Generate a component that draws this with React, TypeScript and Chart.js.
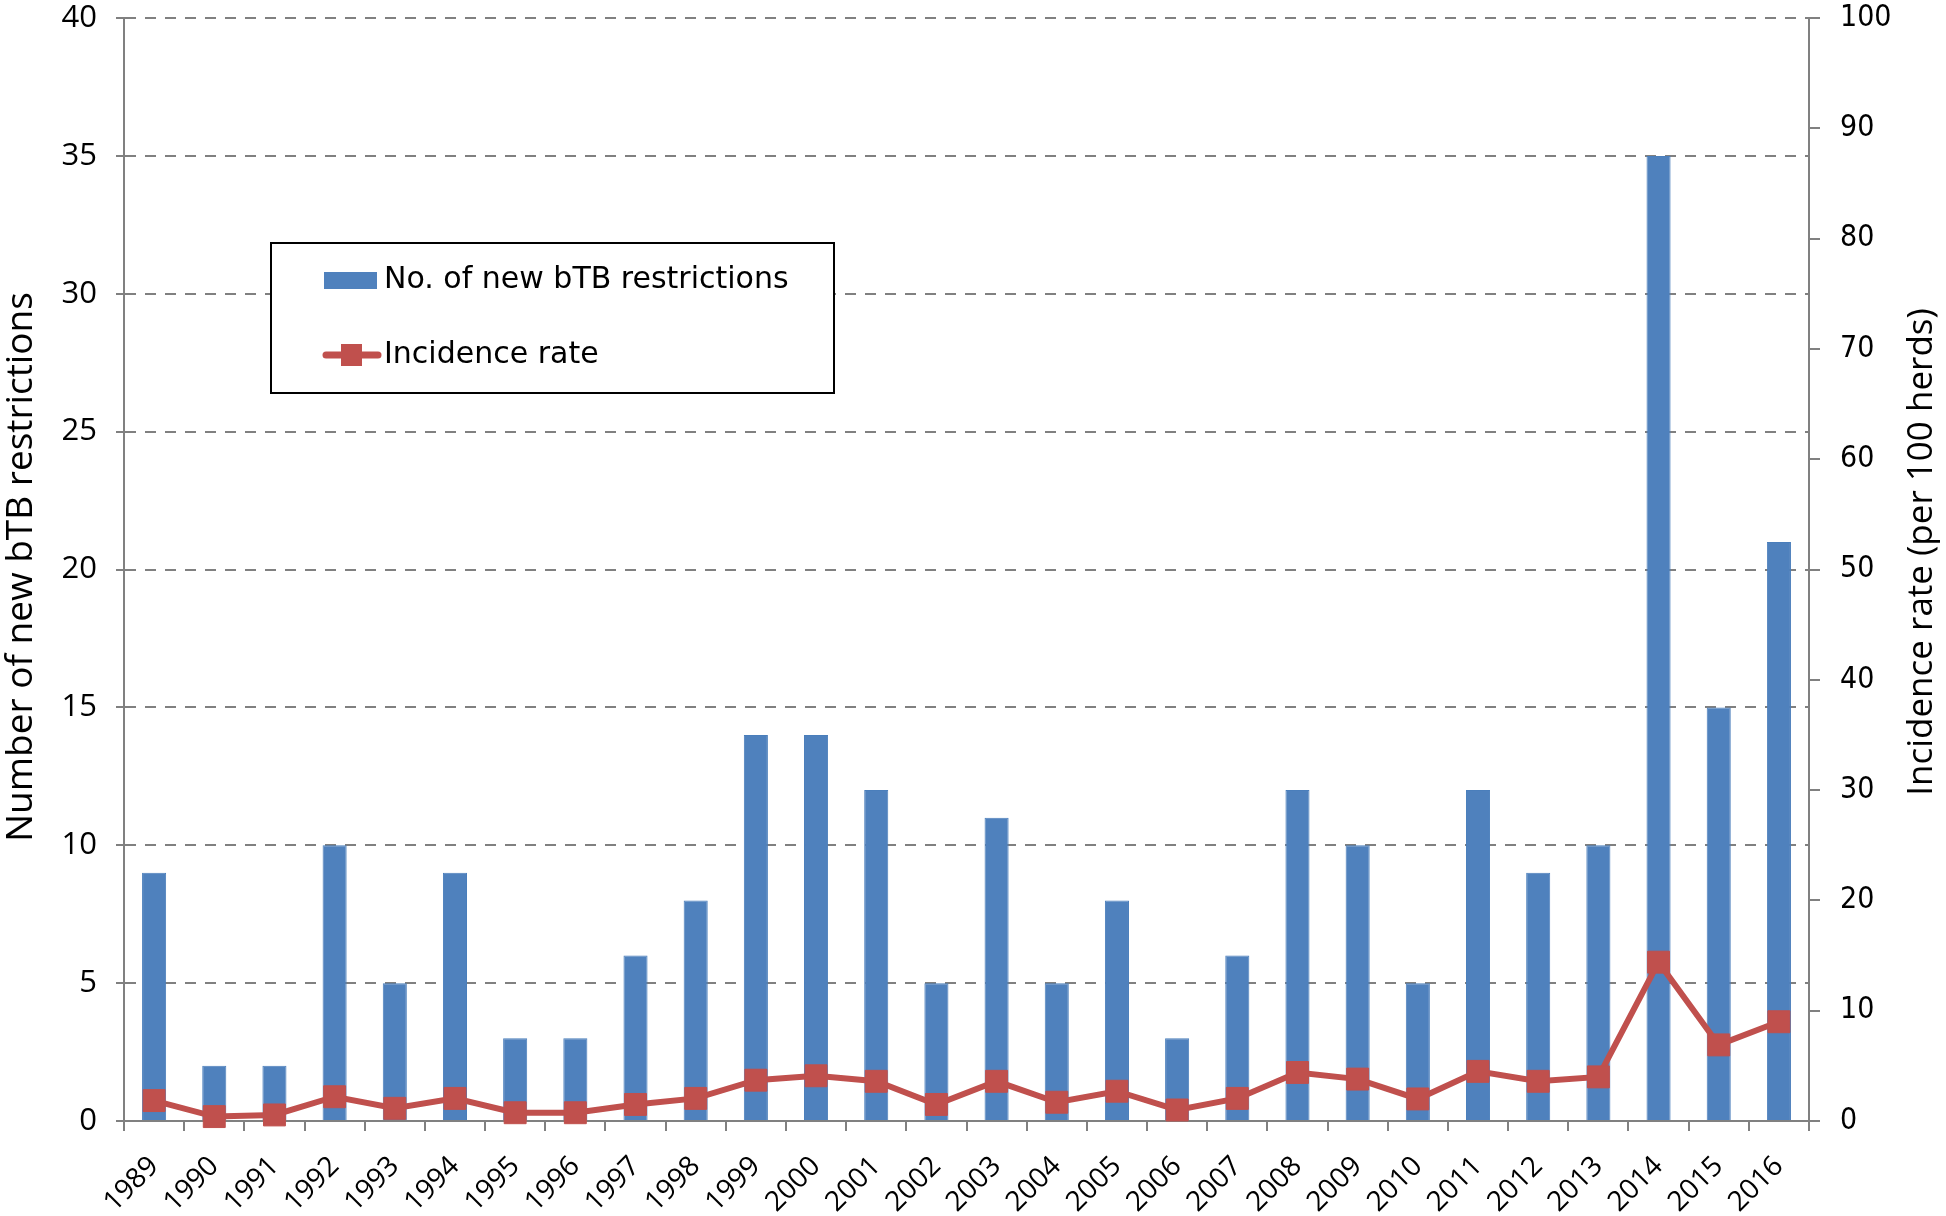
import React, { useEffect, useRef } from "react";
import { Chart, registerables } from "chart.js";

Chart.register(...registerables);

const years = [
  "1989", "1990", "1991", "1992", "1993", "1994", "1995", "1996", "1997", "1998",
  "1999", "2000", "2001", "2002", "2003", "2004", "2005", "2006", "2007", "2008",
  "2009", "2010", "2011", "2012", "2013", "2014", "2015", "2016",
];
const newRestrictions = [
  9, 2, 2, 10, 5, 9, 3, 3, 6, 8,
  14, 14, 12, 5, 11, 5, 8, 3, 6, 12,
  10, 5, 12, 9, 10, 35, 15, 21,
];
const incidenceRate = [
  1.85, 0.4, 0.55, 2.2, 1.15, 2.05, 0.75, 0.75, 1.5, 2.05,
  3.7, 4.1, 3.6, 1.5, 3.6, 1.7, 2.7, 1.0, 2.05, 4.4,
  3.8, 2.0, 4.5, 3.6, 4.0, 14.4, 6.9, 9.0,
];
const barLabel = "No. of new bTB restrictions";
const lineLabel = "Incidence rate";
const leftTitle = "Number of new bTB restrictions";
const rightTitle = "Incidence rate (per 100 herds)";

const W = 1946;
const H = 1216;
const BLUE = "#4F81BD";
const RED = "#C0504D";
const GREY = "#808080";

const overlayPlugin = {
  id: "overlay",
  afterDraw(chart: any) {
    const ctx = chart.ctx as CanvasRenderingContext2D;
    ctx.save();
    // axis titles
    ctx.fillStyle = "#000";
    ctx.textAlign = "center";
    ctx.textBaseline = "middle";
    ctx.save();
    ctx.font = "37px 'Open Sans'";
    ctx.translate(21, 567);
    ctx.rotate(-Math.PI / 2);
    ctx.fillText(leftTitle, 0, 0);
    ctx.restore();
    ctx.save();
    ctx.font = "35px 'Open Sans'";
    ctx.translate(1922, 552);
    ctx.rotate(-Math.PI / 2);
    ctx.fillText(rightTitle, 0, 0);
    ctx.restore();

    // legend box
    const bx = 271, by = 243, bw = 563, bh = 150;
    ctx.fillStyle = "#fff";
    ctx.fillRect(bx, by, bw, bh);
    ctx.strokeStyle = "#000";
    ctx.lineWidth = 2;
    ctx.strokeRect(bx, by, bw, bh);

    ctx.fillStyle = BLUE;
    ctx.fillRect(324, 272, 53, 17);

    ctx.strokeStyle = RED;
    ctx.lineWidth = 7;
    ctx.lineCap = "round";
    ctx.beginPath();
    ctx.moveTo(326, 355);
    ctx.lineTo(378, 355);
    ctx.stroke();
    ctx.fillStyle = RED;
    ctx.fillRect(341, 344, 21, 22);

    ctx.fillStyle = "#000";
    ctx.textAlign = "left";
    ctx.textBaseline = "middle";
    ctx.font = "30px 'DejaVu Sans'";
    ctx.fillText(barLabel, 384, 280);
    ctx.fillText(lineLabel, 384, 355);
    ctx.restore();
  },
};

const zeroPad = (s: any) => {
  s.paddingTop = 0;
  s.paddingBottom = 0;
};

export default function App() {
  const canvasRef = useRef<HTMLCanvasElement | null>(null);

  useEffect(() => {
    const canvas = canvasRef.current;
    if (!canvas) return;
    const chart = new Chart(canvas, {
      type: "bar",
      data: {
        labels: years,
        datasets: [
          {
            type: "line",
            label: lineLabel,
            data: incidenceRate,
            yAxisID: "y1",
            borderColor: RED,
            borderWidth: 6,
            backgroundColor: RED,
            pointStyle: "rect",
            pointRadius: 15.5,
            pointBackgroundColor: RED,
            pointBorderColor: RED,
            pointBorderWidth: 1,
            tension: 0,
            order: 0,
            clip: false,
          } as any,
          {
            type: "bar",
            label: barLabel,
            data: newRestrictions,
            yAxisID: "y",
            backgroundColor: BLUE,
            borderColor: "#4A7EBB",
            borderWidth: 1,
            barPercentage: 0.4,
            categoryPercentage: 1.0,
            order: 1,
          },
        ],
      },
      options: {
        responsive: false,
        animation: false,
        devicePixelRatio: 1,
        layout: { padding: { top: 18, left: 0, right: 0, bottom: 0 } },
        plugins: {
          legend: { display: false },
          tooltip: { enabled: false },
          title: { display: false },
        },
        scales: {
          x: {
            type: "category",
            offset: true,
            grid: {
              display: true,
              drawOnChartArea: false,
              drawTicks: true,
              tickLength: 10,
              color: GREY,
              lineWidth: 2,
              offset: true,
            },
            border: { display: true, color: GREY, width: 2 },
            ticks: {
              autoSkip: false,
              minRotation: 45,
              maxRotation: 45,
              color: "#000",
              padding: 21,
              font: { family: "'Open Sans'", size: 28, lineHeight: 1 },
            },
            afterFit: (s: any) => {
              s.height = 95;
              s.paddingLeft = 0;
              s.paddingRight = 0;
            },
          },
          y: {
            type: "linear",
            position: "left",
            min: 0,
            max: 40,
            ticks: {
              stepSize: 5,
              color: "#000",
              padding: 19,
              font: { family: "'Open Sans'", size: 31, lineHeight: 1 },
            },
            grid: {
              color: GREY,
              lineWidth: 2,
              drawTicks: true,
              tickLength: 8,
              tickColor: GREY,
            },
            border: { display: true, color: GREY, width: 2, dash: [11, 9] },
            afterFit: (s: any) => {
              s.width = 124;
              zeroPad(s);
            },
          },
          y1: {
            type: "linear",
            position: "right",
            min: 0,
            max: 100,
            ticks: {
              stepSize: 10,
              color: "#000",
              padding: 20,
              font: { family: "'DejaVu Sans Condensed', 'DejaVu Sans'", size: 30, lineHeight: 1 },
            },
            grid: {
              drawOnChartArea: false,
              drawTicks: true,
              tickLength: 11,
              color: GREY,
              lineWidth: 2,
            },
            border: { display: true, color: GREY, width: 2 },
            afterFit: (s: any) => {
              s.width = W - 1809;
              zeroPad(s);
            },
          },
        },
      },
      plugins: [overlayPlugin],
    });
    return () => chart.destroy();
  }, []);

  return (
    <div style={{ position: "absolute", left: 0, top: 0, width: W, height: H, background: "#fff" }}>
      <canvas ref={canvasRef} width={W} height={H} style={{ width: W, height: H, display: "block" }} />
    </div>
  );
}
